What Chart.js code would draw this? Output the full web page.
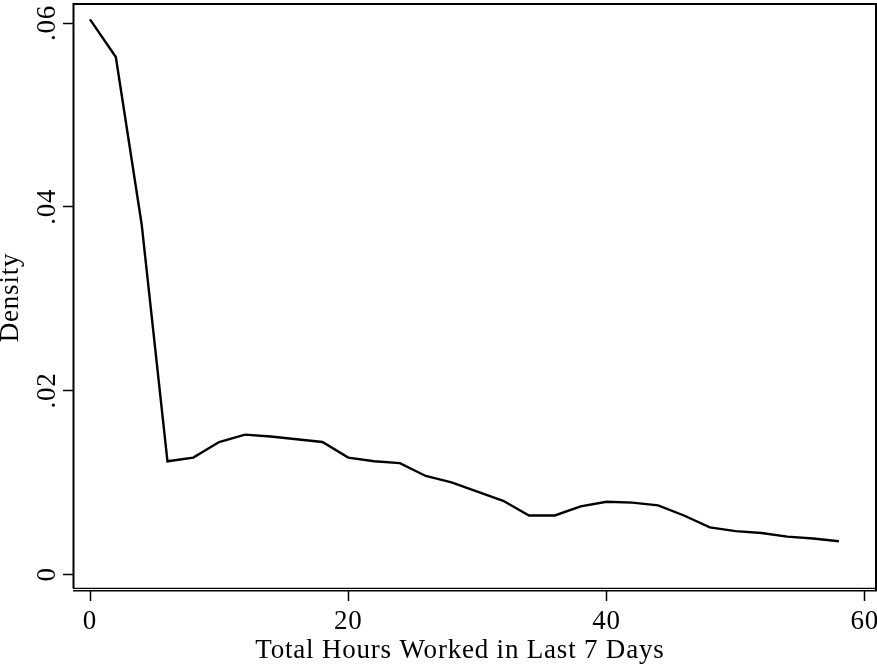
<!DOCTYPE html>
<html>
<head>
<meta charset="utf-8">
<script src="https://cdn.jsdelivr.net/npm/chart.js@4/dist/chart.umd.min.js"></script>
<style>
  html, body { margin: 0; padding: 0; background: #fff; }
  canvas { display: block; }
</style>
</head>
<body>
<canvas id="grafico" width="877" height="669"></canvas>
<script>
// dados
var horas = [0, 2, 4, 6, 8, 10, 12, 14, 16, 18, 20, 22, 24, 26, 28,
             30, 32, 34, 36, 38, 40, 42, 44, 46, 48, 50, 52, 54, 56, 58];
var densidade = [0.0604, 0.0563, 0.0381, 0.0123, 0.0127, 0.0144, 0.0152, 0.0150, 0.0147, 0.0144,
                 0.0127, 0.0123, 0.0121, 0.0107, 0.0100, 0.0090, 0.0080, 0.0064, 0.0064, 0.0074,
                 0.0079, 0.0078, 0.0075, 0.0064, 0.0051, 0.0047, 0.0045, 0.0041, 0.0039, 0.0036];
var ticksX = [0, 20, 40, 60];
var ticksY = [0, 0.02, 0.04, 0.06];

var fonte = "'Liberation Serif', 'Times New Roman', serif";

// tira o espaco extra que o Chart.js reserva para os rotulos
function semPadding(s) {
    s.paddingTop = 0; s.paddingBottom = 0; s.paddingLeft = 0; s.paddingRight = 0;
}

// moldura do grafico (estilo Stata, linha dupla embaixo)
var moldura = {
    id: 'moldura',
    beforeDraw: function(chart) {
        chart.ctx.letterSpacing = '0.8px';
    },
    afterDraw: function(chart) {
        var c = chart.ctx, a = chart.chartArea;
        c.save();
        c.strokeStyle = '#000';
        c.lineWidth = 2;
        c.beginPath();
        c.moveTo(a.left + 0.5, a.bottom - 2.5);
        c.lineTo(a.left + 0.5, a.top);
        c.lineTo(a.right - 1, a.top);
        c.lineTo(a.right - 1, a.bottom);
        c.stroke();
        c.lineWidth = 1.4;
        c.beginPath();
        c.moveTo(a.left, a.bottom - 2.6);
        c.lineTo(a.right, a.bottom - 2.6);
        c.moveTo(a.left, a.bottom - 0.3);
        c.lineTo(a.right, a.bottom - 0.3);
        c.stroke();
        c.restore();
    }
};

var ctx = document.getElementById('grafico');
var chartGraph = new Chart(ctx, {
    type: 'line',
    data: {
        datasets: [{
            data: horas.map(function(h, i) { return {x: h, y: densidade[i]}; }),
            borderColor: '#000',
            borderWidth: 2.4,
            pointRadius: 0,
            tension: 0,
            fill: false
        }]
    },
    options: {
        responsive: false,
        animation: false,
        layout: { padding: { top: 4, right: 0, left: 0, bottom: 0 } },
        plugins: {
            legend: { display: false },
            tooltip: { enabled: false }
        },
        scales: {
            x: {
                type: 'linear',
                min: -1.317,
                max: 60.95,
                afterFit: function(s) { s.height = 78; semPadding(s); },
                afterBuildTicks: function(s) { s.ticks = ticksX.map(function(v) { return {value: v}; }); },
                grid: { drawOnChartArea: false, drawTicks: true, tickLength: 10, tickColor: '#000', tickWidth: 1.5 },
                border: { display: false },
                ticks: {
                    color: '#000',
                    padding: 5,
                    maxRotation: 0,
                    font: { family: fonte, size: 27 }
                },
                title: {
                    display: true,
                    // espacos no fim puxam o titulo um pouco para a esquerda, como no original
                    text: 'Total Hours Worked in Last 7 Days\u00a0\u00a0\u00a0\u00a0',
                    color: '#000',
                    font: { family: fonte, size: 27, lineHeight: 1 },
                    padding: { top: 0, bottom: 5 }
                }
            },
            y: {
                type: 'linear',
                min: -0.001818,
                max: 0.062068,
                afterFit: function(s) { s.width = 73; semPadding(s); },
                afterBuildTicks: function(s) { s.ticks = ticksY.map(function(v) { return {value: v}; }); },
                grid: { drawOnChartArea: false, drawTicks: true, tickLength: 10, tickColor: '#000', tickWidth: 1.5 },
                border: { display: false },
                ticks: {
                    color: '#000',
                    padding: -2,
                    minRotation: 90,
                    maxRotation: 90,
                    crossAlign: 'center',
                    font: { family: fonte, size: 27 },
                    callback: function(v) { return v === 0 ? '0' : v.toFixed(2).replace(/^0/, ''); }
                },
                title: {
                    display: true,
                    text: 'Density',
                    color: '#000',
                    font: { family: fonte, size: 27, lineHeight: 0.8 },
                    padding: 0
                }
            }
        }
    },
    plugins: [moldura]
});
</script>
</body>
</html>
